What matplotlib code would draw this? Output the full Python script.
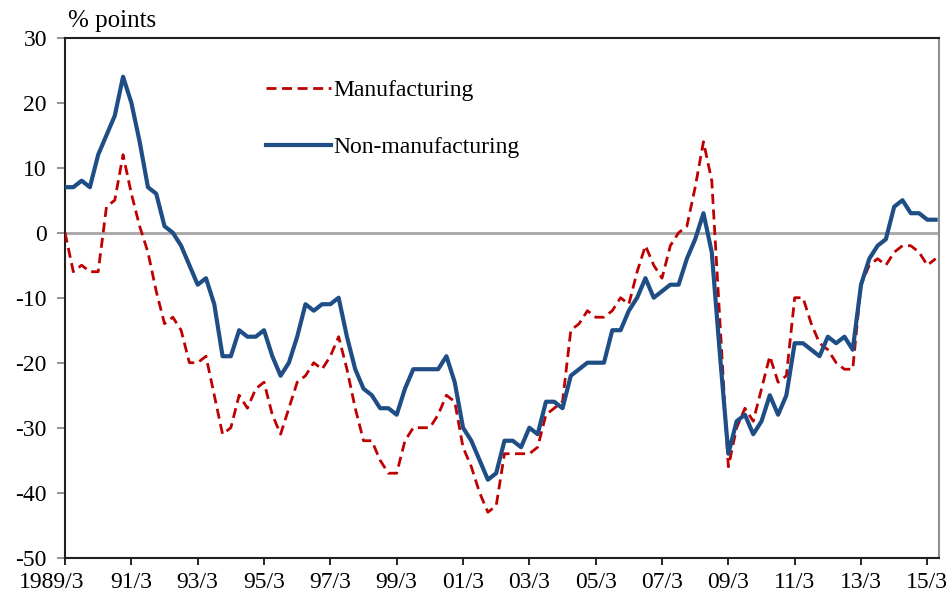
import matplotlib
matplotlib.use("Agg")
import matplotlib.pyplot as plt
import matplotlib.transforms as mtransforms
import numpy as np

plt.rcParams['font.family'] = ['Liberation Serif', 'DejaVu Serif']
plt.rcParams['axes.unicode_minus'] = False

# Quarterly data, 1989/3 onward
manufacturing = [0, -6, -5, -6, -6, 4, 5, 12, 6, 1,
                 -3, -9, -14, -13, -15, -20, -20, -19, -25, -31,
                 -30, -25, -27, -24, -23, -28, -31, -27, -23, -22,
                 -20, -21, -19, -16, -21, -27, -32, -32, -35, -37,
                 -37, -32, -30, -30, -30, -28, -25, -26, -33, -36,
                 -40, -43, -42, -34, -34, -34, -34, -33, -28, -27,
                 -26, -15, -14, -12, -13, -13, -12, -10, -11, -6,
                 -2, -5, -7, -2, 0, 1, 7, 14, 8, -14,
                 -36, -30, -27, -29, -24, -19, -23, -22, -10, -10,
                 -14, -17, -18, -20, -21, -21, -8, -5, -4, -5,
                 -3, -2, -2, -3, -5, -4]
non_manufacturing = [7, 7, 8, 7, 12, 15, 18, 24, 20, 14,
                     7, 6, 1, 0, -2, -5, -8, -7, -11, -19,
                     -19, -15, -16, -16, -15, -19, -22, -20, -16, -11,
                     -12, -11, -11, -10, -16, -21, -24, -25, -27, -27,
                     -28, -24, -21, -21, -21, -21, -19, -23, -30, -32,
                     -35, -38, -37, -32, -32, -33, -30, -31, -26, -26,
                     -27, -22, -21, -20, -20, -20, -15, -15, -12, -10,
                     -7, -10, -9, -8, -8, -4, -1, 3, -3, -19,
                     -34, -29, -28, -31, -29, -25, -28, -25, -17, -17,
                     -18, -19, -16, -17, -16, -18, -8, -4, -2, -1,
                     4, 5, 3, 3, 2, 2]
tick_labels = ['1989/3', '91/3', '93/3', '95/3', '97/3', '99/3', '01/3',
               '03/3', '05/3', '07/3', '09/3', '11/3', '13/3', '15/3']
y_ticks = [30, 20, 10, 0, -10, -20, -30, -40, -50]
series_names = ['Manufacturing', 'Non-manufacturing']

x = np.arange(len(manufacturing))

fs = 17

fig = plt.figure(figsize=(9.52, 6.04), dpi=100)
ax = fig.add_axes([0.0683, 0.0766, 0.918, 0.861])

ax.axhline(0, color='#a6a6a6', lw=2.0, zorder=1)
ax.plot(x, manufacturing, color='#c00000', lw=2.0, ls=(0, (3.6, 2.0)),
        label=series_names[0], zorder=3)
ax.plot(x, non_manufacturing, color='#1f4e86', lw=3.0,
        label=series_names[1], zorder=4, solid_joinstyle='round')

ax.set_xlim(0, 105.4)
ax.set_ylim(-50, 30)
ax.set_yticks(y_ticks)
ax.set_yticklabels([str(v) for v in y_ticks])
ax.set_xticks(np.arange(0, 8 * len(tick_labels), 8))
ax.set_xticklabels(tick_labels)

ax.tick_params(axis='both', labelsize=fs, colors='black', direction='out')
ax.tick_params(axis='y', length=6, width=1.2, color='#808080', pad=7)
ax.tick_params(axis='x', length=5, width=1.2, color='black', pad=5)

for side in ['left', 'bottom', 'top']:
    ax.spines[side].set_color('#202020')
    ax.spines[side].set_linewidth(1.5)
ax.spines['right'].set_color('#909090')
ax.spines['right'].set_linewidth(1.5)

# shift first x label slightly left like the reference
lbl0 = ax.get_xticklabels()[0]
lbl0.set_transform(lbl0.get_transform() + mtransforms.ScaledTranslation(-13 / 100, 0, fig.dpi_scale_trans))

leg = ax.legend(loc='upper left', bbox_to_anchor=(0.219, 0.937), frameon=False,
                fontsize=fs, handlelength=2.75, handletextpad=0.1,
                labelspacing=1.5, borderaxespad=0)

fig.text(0.071, 0.955, '% points', fontsize=fs + 1, ha='left', va='baseline')

fig.savefig('out.png', dpi=100)
